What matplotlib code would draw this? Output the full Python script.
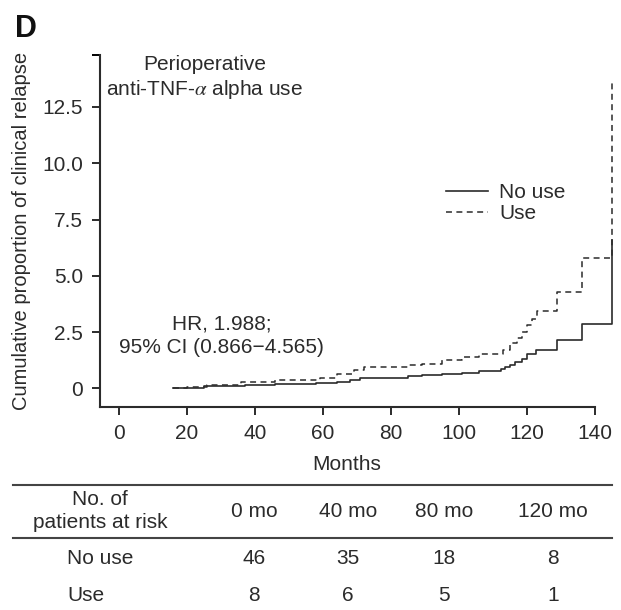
import matplotlib
matplotlib.use("Agg")
import matplotlib.pyplot as plt
from matplotlib.lines import Line2D

plt.rcParams['font.family'] = ['Liberation Sans', 'DejaVu Sans']
plt.rcParams['mathtext.fontset'] = 'stix'

# Kaplan-Meier style cumulative relapse curves
no_use_t = [16, 25, 37, 46, 58, 64, 68, 71, 85, 89, 95, 101, 106, 112.5, 113.5,
            115, 116.5, 118.4, 120, 122.8, 128.8, 136.2, 145]
no_use_y = [0, 0.09, 0.16, 0.2, 0.24, 0.3, 0.38, 0.46, 0.53, 0.6, 0.65, 0.7, 0.77,
            0.84, 0.95, 1.05, 1.17, 1.32, 1.54, 1.72, 2.13, 2.87, 6.6]

use_t = [16, 20, 26, 36, 46, 59, 64, 69, 72, 85, 89, 95, 101, 106, 113, 115, 117,
         118.5, 120, 121.5, 123, 128.8, 136.2, 145]
use_y = [0, 0.05, 0.13, 0.28, 0.36, 0.47, 0.62, 0.8, 0.95, 1.02, 1.1, 1.24, 1.39,
         1.54, 1.7, 2.0, 2.25, 2.5, 2.8, 3.1, 3.43, 4.29, 5.8, 13.7]

x_ticks = [0, 20, 40, 60, 80, 100, 120, 140]
y_ticks = [0, 2.5, 5.0, 7.5, 10.0, 12.5]
y_ticklabels = ['0', '2.5', '5.0', '7.5', '10.0', '12.5']

# number at risk table
risk_cols = ['0 mo', '40 mo', '80 mo', '120 mo']
risk_groups = ['No use', 'Use']
risk_no_use = [46, 35, 18, 8]
risk_use = [8, 6, 5, 1]

W, H = 621, 610
dark = '#2b2b2b'


def fx(px):
    return px / W


def fy(py):
    return 1 - py / H


fig = plt.figure(figsize=(W / 100, H / 100), dpi=100)
ax = fig.add_axes([fx(100), fy(407), fx(515), 352 / H])

ax.step(no_use_t, no_use_y, where='post', color=dark, lw=1.2, label='No use')
ax.step(use_t, use_y, where='post', color=dark, lw=1.1,
        linestyle=(0, (3.9, 2.9)), label='Use')

ax.set_xlim(-5.6, 145.9)
ax.set_ylim(-0.83, 14.81)
ax.set_xticks(x_ticks)
ax.set_yticks(y_ticks)
ax.set_yticklabels(y_ticklabels)
ax.set_yticks([14.81], minor=True)
ax.tick_params(axis='both', labelsize=15, colors=dark, width=1.4, length=6, direction='out')
ax.tick_params(axis='y', pad=6, which='both', width=1.4, length=6)
ax.tick_params(axis='x', pad=6)
for s in ['top', 'right']:
    ax.spines[s].set_visible(False)
for s in ['left', 'bottom']:
    ax.spines[s].set_linewidth(1.5)
    ax.spines[s].set_color(dark)
ax.spines['bottom'].set_bounds(-5.6, 140)

ax.legend(frameon=False, fontsize=15, handlelength=2.0, handletextpad=0.55,
          labelspacing=0.1, borderpad=0, borderaxespad=0, loc='upper left',
          bbox_to_anchor=(fx(446), fy(183)), bbox_transform=fig.transFigure,
          labelcolor=dark)

fig.text(fx(22), fy(231), 'Cumulative proportion of clinical relapse', rotation=90,
         ha='center', va='center', fontsize=14.5, color=dark)
fig.text(fx(347), fy(470), 'Months', ha='center', va='baseline', fontsize=15, color=dark)
fig.text(fx(15), fy(37), 'D', ha='left', va='baseline', fontsize=22,
         fontweight='bold', color='#111111')

fig.text(fx(205), fy(70), 'Perioperative', ha='center', va='baseline', fontsize=15, color=dark)
fig.text(fx(205), fy(95), r'anti-TNF-$\alpha$ alpha use', ha='center', va='baseline',
         fontsize=15, color=dark)
fig.text(fx(222), fy(329), 'HR, 1.988;', ha='center', va='baseline', fontsize=15, color=dark)
fig.text(fx(221), fy(353), '95% CI (0.866\u22124.565)', ha='center', va='baseline',
         fontsize=15, color=dark)

# table
for ly in [485, 538]:
    fig.add_artist(Line2D([fx(13), fx(612)], [fy(ly), fy(ly)], color='#444444', lw=1.5))

fig.text(fx(100), fy(505), 'No. of', ha='center', va='baseline', fontsize=15, color=dark)
fig.text(fx(100), fy(528), 'patients at risk', ha='center', va='baseline', fontsize=15, color=dark)
col_x = [254, 348, 444, 553]
for cx, lab in zip(col_x, risk_cols):
    fig.text(fx(cx), fy(517), lab, ha='center', va='baseline', fontsize=15, color=dark)

row_y = [564, 601]
for ry, grp, vals in zip(row_y, risk_groups, [risk_no_use, risk_use]):
    fig.text(fx(67), fy(ry), grp, ha='left', va='baseline', fontsize=15, color=dark)
    for cx, v in zip(col_x, vals):
        fig.text(fx(cx), fy(ry), str(v), ha='center', va='baseline', fontsize=15, color=dark)

fig.savefig('out.png', dpi=100, facecolor='white')
